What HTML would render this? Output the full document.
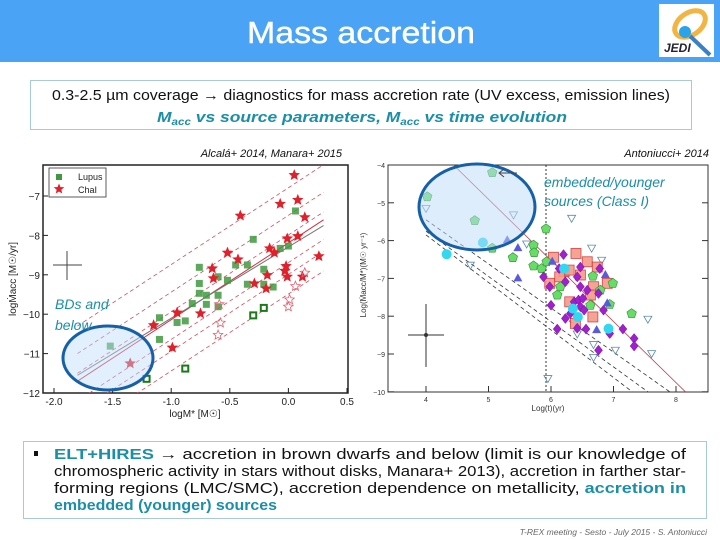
<!DOCTYPE html>
<html><head><meta charset="utf-8"><style>
body{margin:0;width:720px;height:540px;overflow:hidden;background:#fff;font-family:"Liberation Sans",sans-serif}
svg{display:block}
</style></head><body>
<svg id="s" width="720" height="540" xmlns="http://www.w3.org/2000/svg" font-family="Liberation Sans, sans-serif">
<defs>
<clipPath id="cl"><rect x="43" y="165" width="305" height="228"/></clipPath>
<clipPath id="cr"><rect x="388" y="165" width="320" height="227"/></clipPath>
</defs>
<rect x="0" y="0" width="720" height="62" fill="#4aa3f5"/>
<text x="247" y="43" font-size="31" textLength="228" lengthAdjust="spacingAndGlyphs" fill="#fff" stroke="#fff" stroke-width="0.4">Mass accretion</text>
<g>
<rect x="659" y="4" width="55" height="53" fill="#fff"/>
<ellipse cx="690" cy="24" rx="17" ry="11" fill="none" stroke="#f2b443" stroke-width="5" transform="rotate(-35 690 24)"/>
<circle cx="685" cy="32" r="6" fill="#2aa3e8"/>
<line x1="690" y1="36" x2="710" y2="55" stroke="#3a7fc8" stroke-width="4"/>
<text x="664" y="52" font-size="12" font-style="italic" font-weight="bold" fill="#223">JEDI</text>
</g>
<rect x="30.5" y="80.5" width="661" height="49" fill="#fff" stroke="#a9c9d6"/>
<text x="52" y="100" font-size="15" textLength="618" lengthAdjust="spacingAndGlyphs" fill="#111">0.3-2.5 µm coverage → diagnostics for mass accretion rate (UV excess, emission lines)</text>
<text x="157" y="122" font-size="15" font-style="italic" font-weight="bold" fill="#1b8ea8" textLength="410" lengthAdjust="spacingAndGlyphs">M<tspan font-size="10" dy="3">acc</tspan><tspan dy="-3">  vs  source parameters,     M</tspan><tspan font-size="10" dy="3">acc</tspan><tspan dy="-3">  vs  time evolution</tspan></text>
<text x="342" y="157" text-anchor="end" font-size="11" font-style="italic" fill="#111">Alcalá+ 2014, Manara+ 2015</text>
<text x="709" y="157" text-anchor="end" font-size="11" font-style="italic" fill="#111">Antoniucci+ 2014</text>
<g id="L"></g>
<g id="R"></g>
<rect x="23.5" y="441.5" width="683" height="77" fill="#fff" stroke="#a9c9d6"/>
<g font-size="14.5" fill="#111">
<rect x="34" y="451" width="4" height="5" fill="#111"/>
<text x="54" y="459" textLength="632" lengthAdjust="spacingAndGlyphs"><tspan font-weight="bold" fill="#1b8ea8">ELT+HIRES</tspan>  →  accretion  in  brown  dwarfs  and  below  (limit  is  our  knowledge  of</text>
<text x="54" y="476" textLength="632" lengthAdjust="spacingAndGlyphs">chromospheric activity in stars without disks, Manara+ 2013), accretion in farther star-</text>
<text x="54" y="493" textLength="632" lengthAdjust="spacingAndGlyphs">forming   regions   (LMC/SMC),   accretion   dependence   on   metallicity,  <tspan font-weight="bold" fill="#1b8ea8">accretion  in</tspan></text>
<text x="54" y="510" font-weight="bold" fill="#1b8ea8" textLength="223" lengthAdjust="spacingAndGlyphs">embedded (younger) sources</text>
</g>
<text x="707" y="535" text-anchor="end" font-size="8.5" font-style="italic" fill="#666">T-REX meeting - Sesto - July 2015 - S. Antoniucci</text>
</svg>
<script>
const NS="http://www.w3.org/2000/svg";
function mk(p,t,a){const e=document.createElementNS(NS,t);for(const k in a)e.setAttribute(k,a[k]);p.appendChild(e);return e;}
// ---- Left chart data ----
const lupusX=[0.06,-0.30,-0.07,0.0,-0.76,-0.45,-0.35,-0.76,-0.76,-0.70,-0.70,-0.60,-0.52,-0.60,-0.60,-0.82,-0.88,-0.95,-1.10,-1.10,-1.52,-0.21,-0.21,-0.13,-0.35];
const lupusY=[-7.38,-8.10,-8.33,-8.27,-8.81,-8.75,-8.75,-9.22,-9.47,-9.52,-9.75,-9.05,-9.14,-9.52,-9.81,-9.73,-10.17,-10.21,-10.09,-10.64,-10.81,-8.86,-9.24,-9.31,-9.24];
const lupusOpenX=[-0.21,-0.30,-0.88,-1.21];
const lupusOpenY=[-9.84,-10.03,-11.38,-11.64];
const chalX=[0.05,0.08,-0.07,0.14,-0.41,0.08,-0.01,-0.16,-0.12,0.26,-0.52,-0.43,-0.65,-0.64,-0.02,-0.03,-0.01,0.12,-0.18,-0.29,-0.19,-0.75,-0.95,-1.15,-0.99,-1.35];
const chalY=[-6.47,-7.10,-7.20,-7.54,-7.50,-8.02,-8.08,-8.33,-8.44,-8.53,-8.44,-8.61,-8.84,-9.09,-8.78,-8.90,-9.05,-9.05,-9.01,-9.22,-9.35,-9.98,-9.96,-10.28,-10.85,-11.25];
const chalOpenX=[0.14,0.06,0.01,0.0,-0.59,-0.58,-0.60];
const chalOpenY=[-8.95,-9.29,-9.63,-9.81,-9.75,-10.22,-10.53];
const leftXTicks=[-2.0,-1.5,-1.0,-0.5,0.0,0.5];
const leftYTicks=[-7,-8,-9,-10,-11,-12];
const fitOffsets=[0.7,0.2,-0.5,-0.8,1.4,-1.3];
const lx=v=>54+(v+2)*117.2, ly=v=>196-(v+7)*39.4;
const L=document.getElementById('L');
let r=mk(L,'rect',{x:43,y:165,width:305,height:228,fill:'#fff',stroke:'#222','stroke-width':1.5});

leftXTicks.forEach(t=>{mk(L,'line',{x1:lx(t),x2:lx(t),y1:393,y2:388,stroke:'#222'});const e=mk(L,'text',{x:lx(t),y:405,'font-size':10,'text-anchor':'middle',fill:'#222'});e.textContent=t.toFixed(1);
});
leftYTicks.forEach(t=>{mk(L,'line',{x1:43,x2:48,y1:ly(t),y2:ly(t),stroke:'#222'});const e=mk(L,'text',{x:40,y:ly(t)+4,'font-size':10,'text-anchor':'end',fill:'#222'});e.textContent='−'+Math.abs(t);
});
let t=mk(L,'text',{x:195,y:417,'font-size':10,'text-anchor':'middle',fill:'#222'});t.textContent='logM* [M☉]';

t=mk(L,'text',{x:16,y:279,'font-size':10,'text-anchor':'middle',fill:'#222',transform:'rotate(-90 16 279)'});t.textContent='logṀacc [M☉/yr]';

const LC=mk(L,'g',{'clip-path':'url(#cl)'});
const fy=x=>1.95*x-8.19;
fitOffsets.forEach(o=>{const e=mk(LC,'line',{x1:lx(-1.8),y1:ly(fy(-1.8)+o),x2:lx(0.3),y2:ly(fy(0.3)+o),stroke:'#d05060','stroke-width':0.8,'stroke-dasharray':'4,3'});
});
let e=mk(LC,'line',{x1:lx(-1.8),y1:ly(fy(-1.8)),x2:lx(0.3),y2:ly(fy(0.3)),stroke:'#d03040','stroke-width':1});
e=mk(LC,'line',{x1:lx(-1.8),y1:ly(-11.55),x2:lx(0.3),y2:ly(-7.75),stroke:'#777','stroke-width':1});
function star(p,cx,cy,R,fill,stroke){let s='';for(let i=0;i<10;i++){const a=-Math.PI/2+i*Math.PI/5,rr=i%2?R*0.45:R;s+=(cx+rr*Math.cos(a)).toFixed(1)+','+(cy+rr*Math.sin(a)).toFixed(1)+' ';}return mk(p,'polygon',{points:s,fill:fill,stroke:stroke,'stroke-width':0.8});}
lupusX.forEach((x,i)=>{const e=mk(L,'rect',{x:lx(x)-3.5,y:ly(lupusY[i])-3.5,width:7,height:7,fill:'#3f9a3f',opacity:0.85});});
lupusOpenX.forEach((x,i)=>{const e=mk(L,'rect',{x:lx(x)-3,y:ly(lupusOpenY[i])-3,width:6,height:6,fill:'#fff',stroke:'#1a7a1a','stroke-width':2});});
chalX.forEach((x,i)=>{const e=star(L,lx(x),ly(chalY[i]),5,'#e0202a','#e0202a');});
chalOpenX.forEach((x,i)=>{const e=star(L,lx(x),ly(chalOpenY[i]),5,'none','#e06070');});
mk(L,'line',{x1:53,x2:82,y1:265,y2:265,stroke:'#444'});mk(L,'line',{x1:67,x2:67,y1:251,y2:280,stroke:'#444'});
let lg=mk(L,'g',{});
mk(lg,'rect',{x:49,y:168,width:57,height:29,fill:'#fff',stroke:'#333','stroke-width':0.8});
mk(lg,'rect',{x:56,y:174,width:6,height:6,fill:'#3f9a3f'});
t=mk(lg,'text',{x:78,y:180,'font-size':9,fill:'#222'});t.textContent='Lupus';
t=mk(lg,'text',{x:78,y:193,'font-size':9,fill:'#222'});t.textContent='ChaI';
star(lg,59,189,4.5,'#e0202a','#e0202a');
e=mk(L,'ellipse',{cx:108,cy:358,rx:45,ry:32,fill:'rgba(190,220,250,0.45)',stroke:'#1560a8','stroke-width':3});
t=mk(L,'text',{x:55,y:309,'font-size':14,'font-style':'italic',fill:'#1b8ea8'});t.textContent='BDs and';
t=mk(L,'text',{x:55,y:330,'font-size':14,'font-style':'italic',fill:'#1b8ea8'});t.textContent='below';

// ---- Right chart data ----
const greenX=[5.06,4.78,5.06,5.39,5.92,5.72,5.73,5.72,5.85,5.93,6.10,6.15,6.67,6.63,6.79,6.99,6.94,7.29,4.02];
const greenY=[-4.2,-5.47,-6.2,-6.45,-5.69,-6.12,-6.32,-6.67,-6.74,-6.56,-7.44,-7.22,-6.94,-7.71,-7.31,-7.13,-7.69,-7.93,-4.84];
const cyanX=[4.33,4.91,6.21,6.35,6.43,6.92];
const cyanY=[-6.36,-6.05,-6.74,-7.8,-8.02,-8.33];
const purpleX=[6.2,6.13,5.88,5.98,6.0,6.23,6.42,6.47,6.78,6.47,6.58,6.76,6.37,6.44,6.51,6.47,6.31,6.53,6.1,6.42,6.56,6.84,6.94,7.15,7.33,7.33,6.76,6.23];
const purpleY=[-6.37,-6.74,-6.96,-7.22,-7.71,-7.09,-6.96,-6.7,-6.74,-7.22,-7.31,-7.4,-7.62,-7.57,-7.53,-7.75,-7.93,-7.84,-8.34,-8.32,-8.34,-7.84,-8.46,-8.34,-8.59,-8.79,-8.9,-8.06];
const salmonX=[6.04,6.21,6.4,6.58,6.29,6.74,5.98,6.14,6.47,6.68,6.9,6.3,6.39,6.67,6.63];
const salmonY=[-6.44,-6.82,-6.34,-6.56,-6.78,-6.7,-7.13,-6.96,-6.91,-7.22,-7.13,-7.62,-8.19,-8.02,-7.44];
const blueX=[5.3,5.47,5.47,6.02,6.87,6.73,6.9];
const blueY=[-5.99,-6.2,-7.0,-6.56,-6.91,-8.37,-7.66];
const openX=[5.4,6.33,4.71,5.61,6.65,6.81,5.95,7.55,7.61,6.68,6.68,7.03,6.42,4.0];
const openY=[-5.32,-5.41,-6.65,-6.09,-6.2,-6.52,-9.65,-8.08,-8.99,-8.75,-9.09,-8.9,-8.47,-5.15];
const rightXTicks=[4,5,6,7,8];
const rightYTicks=[-4,-5,-6,-7,-8,-9,-10];
const rx=v=>426+(v-4)*62.5, ry=v=>165-(v+4)*37.8;
const R=document.getElementById('R');
r=mk(R,'rect',{x:388,y:165,width:320,height:227,fill:'#fff',stroke:'#333','stroke-width':1});
rightXTicks.forEach(t=>{mk(R,'line',{x1:rx(t),x2:rx(t),y1:392,y2:386,stroke:'#333'});const e=mk(R,'text',{x:rx(t),y:402,'font-size':7,'text-anchor':'middle',fill:'#333'});e.textContent=t;});
rightYTicks.forEach(t=>{mk(R,'line',{x1:388,x2:394,y1:ry(t),y2:ry(t),stroke:'#333'});mk(R,'line',{x1:702,x2:708,y1:ry(t),y2:ry(t),stroke:'#333'});const e=mk(R,'text',{x:385,y:ry(t)+3,'font-size':7,'text-anchor':'end',fill:'#333'});e.textContent='−'+Math.abs(t);});
t=mk(R,'text',{x:548,y:411,'font-size':8,'text-anchor':'middle',fill:'#333'});t.textContent='Log(t)(yr)';
t=mk(R,'text',{x:366,y:275,'font-size':8,'text-anchor':'middle',fill:'#333',transform:'rotate(-90 366 275)'});t.textContent='Log(Ṁacc/M*)(M☉ yr⁻¹)';
const RC=mk(R,'g',{'clip-path':'url(#cr)'});
e=mk(RC,'line',{x1:rx(5.92),x2:rx(5.92),y1:165,y2:392,stroke:'#333','stroke-dasharray':'2,2'});
e=mk(RC,'line',{x1:rx(4.44),y1:ry(-4),x2:rx(8.15),y2:ry(-10),stroke:'#c04050','stroke-width':0.8});
[[-5.45,7.9],[-5.75,7.55],[-5.85,7.3]].forEach(d=>{const e=mk(RC,'line',{x1:rx(4),y1:ry(d[0]),x2:rx(d[1]),y2:ry(-10),stroke:'#333','stroke-width':0.8,'stroke-dasharray':'4,3'});});
function pent(cx,cy,s){let p='';for(let i=0;i<5;i++){const a=-Math.PI/2+i*2*Math.PI/5;p+=(cx+s*Math.cos(a)).toFixed(1)+','+(cy+s*Math.sin(a)).toFixed(1)+' ';}return p;}
openX.forEach((x,i)=>{const cx=rx(x),cy=ry(openY[i]);const e=mk(R,'polygon',{points:`${cx-4},${cy-3} ${cx+4},${cy-3} ${cx},${cy+4}`,fill:'none',stroke:'#5a8aa8','stroke-width':0.8});});
salmonX.forEach((x,i)=>{const e=mk(R,'rect',{x:rx(x)-5,y:ry(salmonY[i])-5,width:10,height:10,fill:'#f59a8a',stroke:'#d03030','stroke-width':0.8,opacity:0.9});});
greenX.forEach((x,i)=>{const e=mk(R,'polygon',{points:pent(rx(x),ry(greenY[i]),5),fill:'#66dd66',stroke:'#3a8a3a','stroke-width':0.6});});
purpleX.forEach((x,i)=>{const cx=rx(x),cy=ry(purpleY[i]);const e=mk(R,'polygon',{points:`${cx},${cy-5} ${cx+4},${cy} ${cx},${cy+5} ${cx-4},${cy}`,fill:'#a020d0',stroke:'#701090','stroke-width':0.5});});
blueX.forEach((x,i)=>{const cx=rx(x),cy=ry(blueY[i]);const e=mk(R,'polygon',{points:`${cx},${cy-5} ${cx+4.5},${cy+3} ${cx-4.5},${cy+3}`,fill:'#5a5ae0'});});
cyanX.forEach((x,i)=>{const e=mk(R,'circle',{cx:rx(x),cy:ry(cyanY[i]),r:5,fill:'#33d8f0'});});
mk(R,'line',{x1:408,x2:444,y1:335,y2:335,stroke:'#333'});mk(R,'line',{x1:426,x2:426,y1:304,y2:367,stroke:'#333'});mk(R,'circle',{cx:426,cy:335,r:2,fill:'#333'});
e=mk(R,'ellipse',{cx:477,cy:207,rx:58,ry:43,fill:'rgba(190,220,250,0.5)',stroke:'#1560a8','stroke-width':3});
e=mk(R,'path',{d:'M517 173 L499 173 M504 169 L499 173 L504 177',fill:'none',stroke:'#444','stroke-width':1});
t=mk(R,'text',{x:544,y:187,'font-size':14,'font-style':'italic',fill:'#1b8ea8'});t.textContent='embedded/younger';
t=mk(R,'text',{x:544,y:206,'font-size':14,'font-style':'italic',fill:'#1b8ea8'});t.textContent='sources (Class I)';
</script>
</body></html>
